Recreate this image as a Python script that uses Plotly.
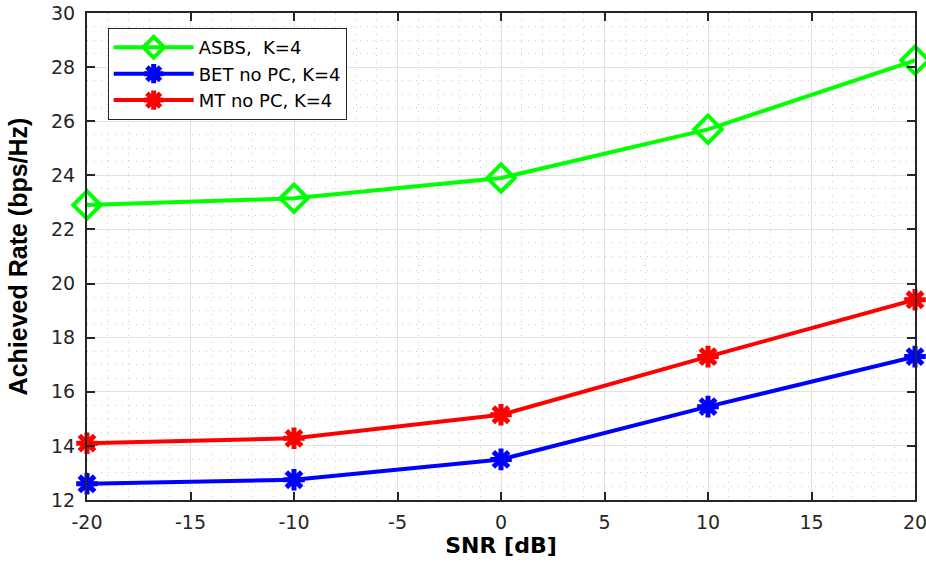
import plotly.graph_objects as go

snr = [-20, -10, 0, 10, 20]
asbs = [22.9, 23.15, 23.9, 25.7, 28.25]
bet = [12.6, 12.75, 13.5, 15.45, 17.3]
mt = [14.1, 14.28, 15.15, 17.3, 19.4]

names = ["ASBS,  K=4", "BET no PC, K=4", "MT no PC, K=4"]
colors = ["#00ff00", "#0000ff", "#ff0000"]

x_ticks = [-20, -15, -10, -5, 0, 5, 10, 15, 20]
x_ticktext = ["-20", "-15", "-10", "-5", "0", "5", "10", "15", "20"]
y_ticks = [12, 14, 16, 18, 20, 22, 24, 26, 28, 30]

fig = go.Figure()
fig.add_trace(go.Scatter(x=snr, y=asbs, name=names[0], mode="lines+markers", cliponaxis=False,
                         line=dict(color=colors[0], width=4),
                         marker=dict(symbol="diamond-open", size=21, color=colors[0],
                                     line=dict(width=4, color=colors[0]))))
fig.add_trace(go.Scatter(x=snr, y=bet, name=names[1], mode="lines+markers", cliponaxis=False,
                         line=dict(color=colors[1], width=4),
                         marker=dict(symbol="asterisk-open", size=18, color=colors[1],
                                     line=dict(width=5, color=colors[1]))))
fig.add_trace(go.Scatter(x=snr, y=mt, name=names[2], mode="lines+markers", cliponaxis=False,
                         line=dict(color=colors[2], width=4),
                         marker=dict(symbol="asterisk-open", size=18, color=colors[2],
                                     line=dict(width=5, color=colors[2]))))

tick_font = dict(family="DejaVu Sans, sans-serif", size=19, color="#262626")
axis_common = dict(
    showline=True, linecolor="#262626", linewidth=2, mirror="ticks",
    ticks="inside", ticklen=8, tickwidth=2, tickcolor="#262626",
    showgrid=True, gridcolor="#e2e2e2", gridwidth=1,
    zeroline=False, automargin=False, ticklabeloverflow="allow",
    tickfont=tick_font,
)
fig.update_xaxes(range=[-20, 20], tickvals=x_ticks, ticktext=x_ticktext, ticklabelstandoff=4,
                 minor=dict(dtick=1, showgrid=True, gridcolor="#cccccc", griddash="1px,6px", ticks=""),
                 title=dict(text="<b>SNR [dB]</b>", font=dict(family="DejaVu Sans, sans-serif", size=22, color="#000"), standoff=6),
                 **axis_common)
fig.update_yaxes(range=[12, 30], tickvals=y_ticks, ticklabelstandoff=6,
                 minor=dict(dtick=0.5, showgrid=True, gridcolor="#cccccc", griddash="1px,6px", ticks=""),
                 title=dict(text="<b>Achieved Rate (bps/Hz)</b>",
                            font=dict(family="Liberation Sans Narrow, Arial Narrow, sans-serif", size=25, color="#000"),
                            standoff=16),
                 **axis_common)

fig.update_layout(
    width=926, height=564,
    margin=dict(l=87, r=11, t=13, b=64),
    plot_bgcolor="white", paper_bgcolor="white",
    legend=dict(x=0.025, y=0.969, xanchor="left", yanchor="top",
                bgcolor="white", bordercolor="#262626", borderwidth=1,
                font=dict(family="DejaVu Sans, sans-serif", size=18, color="#000"),
                itemwidth=80, tracegroupgap=0),
    showlegend=True,
)

fig.write_html("out.html")
